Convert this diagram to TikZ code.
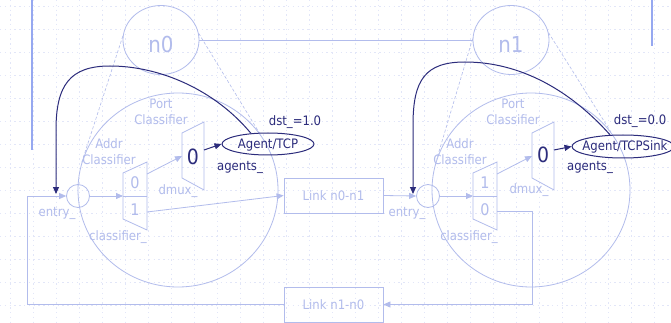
\documentclass[tikz,border=0pt]{standalone}
\usepackage{fontspec}
\setmainfont{DejaVu Sans Condensed}
\usetikzlibrary{arrows.meta,shapes.geometric,calc}
\definecolor{pale}{RGB}{178,188,236}
\definecolor{navy}{RGB}{44,44,124}
\definecolor{bar}{RGB}{150,168,240}
\definecolor{gridc}{RGB}{226,230,248}

\begin{document}
\begin{tikzpicture}[x=1pt,y=-1pt,
  lite/.style={draw=pale, line width=0.8pt},
  dark/.style={draw=navy, line width=1pt},
  headed/.style={-{Triangle[length=7pt,width=6pt]}},
  lbl/.style={text=pale, font=\fontsize{13}{16}\selectfont, inner sep=0pt, align=center},
  dlbl/.style={text=navy, font=\fontsize{13}{16}\selectfont, inner sep=0pt},
  digit/.style={text=pale, font=\fontsize{16}{18}\selectfont, inner sep=0pt},
  bigdigit/.style={text=navy, font=\fontsize{21}{24}\selectfont, inner sep=0pt},
  nodename/.style={text=pale, font=\fontsize{22}{24}\selectfont, inner sep=0pt},
  zoomlink/.style={draw=pale, line width=0.6pt, dash pattern=on 3pt off 2pt},
  gridline/.style={draw=gridc, line width=0.7pt, dash pattern=on 1.4pt off 3.4pt},
  linkbox/.style={rectangle, lite, minimum width=99, minimum height=35, inner sep=0pt,
                  text=pale, font=\fontsize{13}{16}\selectfont},
  ring/.style={ellipse, lite, inner sep=0pt},
  agent/.style={ellipse, dark, inner sep=0pt}
]
% page and background grid
\fill[white] (0,0) rectangle (671,323);
\useasboundingbox (0,0) rectangle (671,323);
\foreach \k in {0,...,28} \draw[gridline] ({10+23*\k},0) -- ({10+23*\k},323);
\foreach \k in {0,...,13} \draw[gridline] (0,{6+23*\k}) -- (671,{6+23*\k});

% side bars
\draw[bar, line width=2pt] (32,0) -- (32,150);
\draw[bar, line width=2pt] (652,0) -- (652,46);

% the two nodes and their link
\node[ring, minimum width=76, minimum height=69] (n0) at (161,40) {};
\node[ring, minimum width=76, minimum height=69] (n1) at (511,40) {};
\node[nodename] (n0t) at (161,44) {n0};
\node[nodename] (n1t) at (511,44) {n1};
\draw[lite] (n0.east) -- (n1.west);

% enlarged views of the nodes
\node[ring, minimum width=200, minimum height=194] (bigL) at (178,190) {};
\node[ring, minimum width=198, minimum height=194] (bigR) at (531,190) {};
\draw[zoomlink] (n0.174) -- (bigL.164);
\draw[zoomlink] (n0.10) -- (bigL.35);
\draw[zoomlink] (n1.178) -- (bigR.162);
\draw[zoomlink] (n1.11) -- (bigR.36);

% ---------- node n0 internals ----------
\node[circle, lite, minimum size=23, inner sep=0pt] (entryL) at (78,196) {};
\node[lbl] (entryLt) at (57,213) {entry\_};
\draw[lite] (123,173) coordinate (clA) -- (147,162) coordinate (clB)
  -- (147,230) coordinate (clC) -- (123,219) coordinate (clD) -- cycle;
\draw[lite] (123,196) coordinate (clIn) -- (147,196);
\coordinate (clOut0) at (147,174);
\coordinate (clOut1) at (147,212);
\node[digit] (clZero) at (135,183) {0};
\node[digit] (clOne) at (135,210) {1};
\node[lbl] (clLab) at (118,237) {classifier\_};
\node[lbl] (addrL) at (109,152) {Addr\\Classifier};

\draw[lite] (182,133) coordinate (dmA) -- (204,122) -- (204,190) -- (182,178) -- cycle;
\coordinate (dmIn) at (182,156);
\coordinate (dmOut) at (204,150);
\node[bigdigit] (dmZero) at (193,157) {0};
\node[lbl] (dmLab) at (178,191) {dmux\_};
\node[lbl] (portL) at (161,112) {Port\\Classifier};

\node[agent, minimum width=92, minimum height=22] (agL) at (268,144) {};
\node[dlbl] (agLt) at (268,145) {Agent/TCP};
\node[dlbl] (dstL) at (295,122) {dst\_=1.0};
\node[dlbl] (agsL) at (240,167) {agents\_};

% ---------- node n1 internals ----------
\node[circle, lite, minimum size=23, inner sep=0pt] (entryR) at (428,196) {};
\node[lbl] (entryRt) at (407,213) {entry\_};
\draw[lite] (473,173) -- (497,162) -- (497,230) -- (473,219) -- cycle;
\draw[lite] (473,196) coordinate (crIn) -- (497,196);
\coordinate (crOut1) at (497,174);
\coordinate (crOut0) at (497,211);
\node[digit] (crOne) at (485,183) {1};
\node[digit] (crZero) at (485,210) {0};
\node[lbl] (crLab) at (469,237) {classifier\_};
\node[lbl] (addrR) at (460,152) {Addr\\Classifier};

\draw[lite] (532,133) -- (554,122) -- (554,190) -- (532,178) -- cycle;
\coordinate (dmRIn) at (532,156);
\coordinate (dmROut) at (554,150);
\node[bigdigit] (dmRZero) at (543,155) {0};
\node[lbl] (dmRLab) at (529,190) {dmux\_};
\node[lbl] (portR) at (513,112) {Port\\Classifier};

\node[agent, minimum width=102, minimum height=23] (agR) at (623,146.5) {};
\node[dlbl] (agRt) at (625,146.5) {Agent/TCPSink};
\node[dlbl] (dstR) at (640,121) {dst\_=0.0};
\node[dlbl] (agsR) at (590,167) {agents\_};

% ---------- links ----------
\node[linkbox] (linkA) at (333.5,195.5) {Link n0-n1};
\node[linkbox] (linkB) at (333.5,304.5) {Link n1-n0};

% ---------- packet paths ----------
\coordinate (loopL) at (27,196);
\coordinate (turnR) at (532,304.5);
\draw[lite, headed] (linkB.west) -| (loopL) -- (entryL.west);
\draw[lite, headed] (entryL.east) -- (clIn);
\draw[lite, headed] (clOut0) -- (dmIn);
\draw[lite, headed] (clOut1) -- (linkA.west);
\draw[lite, headed] (linkA.east) -- (entryR.west);
\draw[lite, headed] (entryR.east) -- (crIn);
\draw[lite, headed] (crOut1) -- (dmRIn);
\draw[lite, headed] (crOut0) -| (turnR) -- (linkB.east);

\draw[dark, headed] (dmOut) -- (agL.west);
\draw[dark, headed] (dmROut) -- (agR.west);

% agents attach to the node entry
\coordinate (dropL) at (56,194);
\coordinate (dropR) at (413,194);
\draw[dark, headed] (agL.148) .. controls (215,90) and (160,66) .. (110,66)
  .. controls (70,66) and (56,85) .. (56,130) -- (dropL);
\draw[dark, headed] (agR.138) .. controls (570,90) and (520,62) .. (465,62)
  .. controls (425,62) and (413,80) .. (413,125) -- (dropR);
\end{tikzpicture}
\end{document}
